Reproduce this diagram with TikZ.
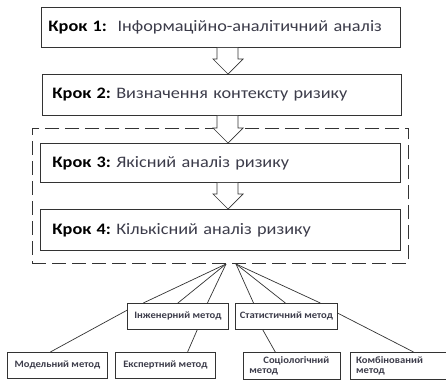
\documentclass[tikz,border=0pt]{standalone}
\usepackage{fontspec}
\setmainfont{Carlito}
\newfontfamily\stepfont[FakeStretch=1.14]{Carlito}
\newfontfamily\methfont[FakeStretch=1.08]{Carlito}
\usetikzlibrary{calc}
\definecolor{txt}{HTML}{3C3C4A}
\definecolor{edge}{HTML}{333333}
\tikzset{
  stepbox/.style={draw=edge, line width=0.9pt, anchor=north west, inner ysep=0pt,
    align=left, font=\stepfont\fontsize{16}{18}\selectfont, text=txt},
  mbox/.style={draw=edge, line width=0.8pt, anchor=north west, inner sep=0pt,
    font=\methfont\fontsize{9.8}{10.5}\selectfont\bfseries, text=txt},
  blockarrow/.style={draw=edge, line width=0.7pt, fill=white},
  link/.style={draw=edge, line width=0.7pt},
}
\newcommand{\barrow}[2]{%
  \draw[blockarrow] let \p1=(#1.south), \p2=(#2.north) in
    (217,\y1) -- (217,\y2+15) -- (213,\y2+15) -- (228,\y2) -- (243,\y2+15) -- (238,\y2+15) -- (238,\y1);
}
\begin{document}
\frenchspacing
\begin{tikzpicture}[x=1pt,y=1pt]
\useasboundingbox (0,0) rectangle (446,-380);
% steps
\node[stepbox, minimum width=359pt, minimum height=40pt, text width=345pt, inner xsep=7pt] (k1) at (41,-7)
  {\raisebox{-3pt}{\textcolor{black}{\textbf{Крок 1:}}\ \ Інформаційно-аналітичний аналіз}};
\node[stepbox, minimum width=359pt, minimum height=41pt, text width=339pt, inner xsep=10pt] (k2) at (42,-74)
  {\raisebox{-3pt}{\textcolor{black}{\textbf{Крок 2:}} Визначення контексту ризику}};
\node[draw=edge, line width=0.9pt, dash pattern=on 14pt off 6pt, anchor=north west,
  minimum width=376pt, minimum height=135pt, inner sep=0pt] (grp) at (32,-128) {};
\node[stepbox, minimum width=360pt, minimum height=39pt, text width=336pt, inner xsep=12pt] (k3) at (40,-143)
  {\textcolor{black}{\textbf{Крок 3:}} Якісний аналіз ризику};
\node[stepbox, minimum width=360pt, minimum height=41pt, text width=336pt, inner xsep=12pt] (k4) at (40,-209)
  {\raisebox{-3pt}{\textcolor{black}{\textbf{Крок 4:}} Кількісний аналіз ризику}};
% block arrows
\barrow{k1}{k2}
\barrow{k2}{k3}
\barrow{k3}{k4}
% methods
\node[mbox, minimum width=101pt, minimum height=26pt] (inz) at (127,-303) {Інженерний метод};
\node[mbox, minimum width=102pt, minimum height=26pt] (sta) at (235,-303) {Статистичний метод};
\node[mbox, minimum width=100pt, minimum height=26pt] (mod) at (7,-352) {Модельний метод};
\node[mbox, minimum width=100pt, minimum height=26pt] (eks) at (115,-352) {Експертний метод};
\node[mbox, minimum width=97pt, minimum height=27pt, text width=85pt, align=left] (soc) at (243,-352)
  {\raisebox{-3pt}{\hspace*{14pt}Соціологічний}\\[-1pt]\raisebox{-3pt}{метод}};
\node[mbox, minimum width=95.5pt, minimum height=27pt, text width=88pt, align=left] (kom) at (350,-352)
  {\raisebox{-3pt}{\hspace*{2pt}Комбінований}\\[-1pt]\raisebox{-3pt}{\hspace*{2pt}метод}};
% connectors
\coordinate (cl) at (226,-264);
\coordinate (cr) at (236,-264);
\draw[link] (cl) -- ($(inz.north west)!0.16!(inz.north east)$);
\draw[link] (cl) -- ($(inz.north west)!0.5!(inz.north east)$);
\draw[link] (cl) -- ($(inz.north west)!0.79!(inz.north east)$);
\draw[link] (cr) -- ($(sta.north west)!0.18!(sta.north east)$);
\draw[link] (cr) -- ($(sta.north west)!0.49!(sta.north east)$);
\draw[link] (cr) -- ($(sta.north west)!0.83!(sta.north east)$);
\draw[link] ($(inz.north west)!0.27!(inz.south west)$) -- ($(mod.north west)!0.43!(mod.north east)$);
\draw[link] ($(inz.south west)!0.69!(inz.south east)$) -- ($(eks.north west)!0.72!(eks.north east)$);
\draw[link] ($(sta.south west)!0.27!(sta.south east)$) -- ($(soc.north west)!0.33!(soc.north east)$);
\draw[link] ($(sta.north east)!0.38!(sta.south east)$) -- ($(kom.north west)!0.66!(kom.north east)$);
\end{tikzpicture}
\end{document}
